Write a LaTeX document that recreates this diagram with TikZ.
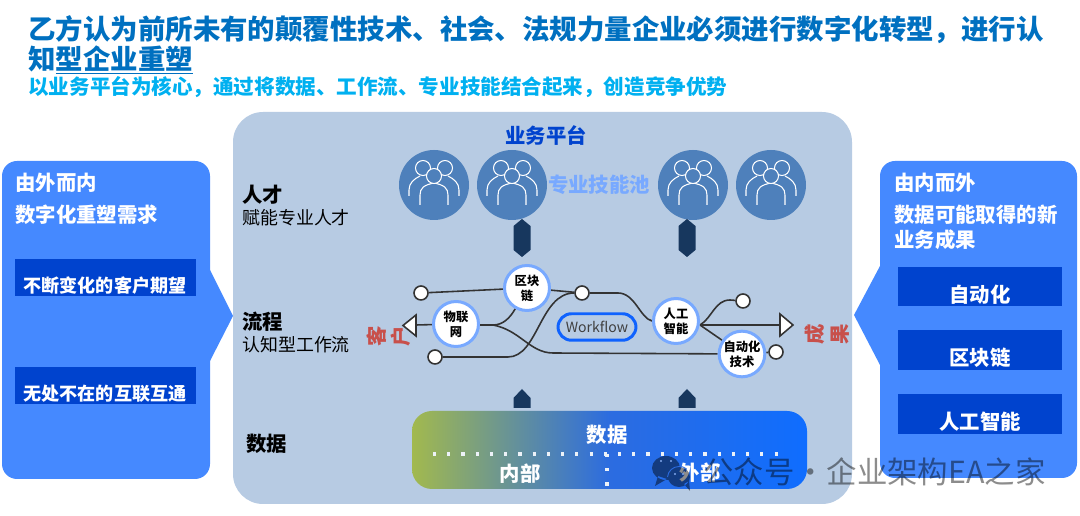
\documentclass[tikz,border=0pt]{standalone}
\usepackage{fontspec}
\setmainfont{Noto Sans CJK SC}
\usetikzlibrary{positioning}
\pgfdeclarelayer{back}
\pgfdeclarelayer{wires}
\pgfsetlayers{back,wires,main}
\definecolor{titleblue}{HTML}{0070C0}
\definecolor{subblue}{HTML}{00B0F0}
\definecolor{panelblue}{HTML}{B7CBE3}
\definecolor{sideblue}{HTML}{4589FF}
\definecolor{deepblue}{HTML}{0043CE}
\definecolor{ringblue}{HTML}{78A9FF}
\definecolor{poolblue}{HTML}{4E80BB}
\definecolor{navyblue}{HTML}{17375E}
\definecolor{flowred}{HTML}{C8504B}
\definecolor{linegray}{HTML}{333333}
\definecolor{flowblue}{HTML}{0F62FE}
\definecolor{dataleft}{HTML}{A2B94E}
\definecolor{datamid}{HTML}{2C6CE0}
\definecolor{dataright}{HTML}{0F6DFF}
\tikzset{
    bigtxt/.style={font=\fontsize{11.6pt}{14pt}\selectfont\bfseries},
    sidetxt/.style={bigtxt, white, anchor=west, inner sep=0pt},
    sidebar/.style={fill=deepblue, draw=none},
    itemtxt/.style={font=\fontsize{10.3pt}{12pt}\selectfont\bfseries, white, inner sep=0pt},
    rowhead/.style={bigtxt, black, anchor=west, inner sep=0pt},
    rowsub/.style={font=\fontsize{10.2pt}{12pt}\selectfont, black, anchor=west, inner sep=0pt},
    tech/.style={circle, draw=ringblue, line width=1.7pt, fill=white, minimum size=0.9cm, inner sep=0pt, align=center, font=\fontsize{7pt}{8.6pt}\selectfont\bfseries},
    port/.style={circle, draw=linegray, line width=0.9pt, fill=white, minimum size=0.28cm, inner sep=0pt},
    flow/.style={draw=linegray, line width=0.9pt},
    tip/.style={draw=linegray, line width=0.9pt, fill=white},
    redtxt/.style={bigtxt, flowred, rotate=90, inner sep=0pt},
    datatxt/.style={bigtxt, white, inner sep=0pt},
    dotline/.style={white!75!panelblue, line width=1.8pt, dash pattern=on 1.8pt off 6.3pt},
    link/.style={fill=navyblue},
    pool/.pic={
        \fill[poolblue] (0,0) circle (35);
        \begin{scope}[draw=white, line width=0.6pt]
            \draw (-11,-17) circle (7.5);
            \draw (11,-17) circle (7.5);
            \draw (-25,11) -- (-25,5) .. controls (-25,-2) and (-20,-6) .. (-14,-9);
            \draw (25,11) -- (25,5) .. controls (25,-2) and (20,-6) .. (14,-9);
            \draw[fill=poolblue] (-14,20) -- (-14,10) .. controls (-14,3) and (-10,0) .. (0,-2) .. controls (10,0) and (14,3) .. (14,10) -- (14,20);
            \draw[fill=poolblue] (0,-9) circle (7.5);
        \end{scope}
    }
}
\begin{document}
\begin{tikzpicture}[x=0.02cm, y=-0.02cm]
    \useasboundingbox (0,0) rectangle (1080,516);
    % heading
    \node[anchor=west, inner sep=0pt, titleblue, font=\fontsize{15.62pt}{18pt}\selectfont\bfseries] (title) at (28,30) {乙方认为前所未有的颠覆性技术、社会、法规力量企业必须进行数字化转型，进行认};
    \node[anchor=west, inner sep=0pt, titleblue, font=\fontsize{15.62pt}{18pt}\selectfont\bfseries] (titlerest) at (28,60) {知\underline{型企业重塑}};
    \node[anchor=west, inner sep=0pt, subblue, font=\fontsize{11.7pt}{14pt}\selectfont\bfseries] (subtitle) at (28,87) {以业务平台为核心，通过将数据、工作流、专业技能结合起来，创造竞争优势};
    % middle panel
    \begin{pgfonlayer}{back}
        \fill[panelblue, rounded corners=0.6cm] (233,112) rectangle (852,504);
    \end{pgfonlayer}
    % left side
    \fill[sideblue] (210,270) -- (233,316) -- (210,361) -- cycle;
    \fill[sideblue, rounded corners=0.3cm] (2,161) rectangle (210,479);
    \node[sidetxt] (outin) at (15,183) {由外而内};
    \node[sidetxt] (outneed) at (15,215) {数字化重塑需求};
    \fill[sidebar] (15,259) rectangle (196,296);
    \fill[sidebar] (15,367) rectangle (196,404);
    \node[itemtxt] (custom) at (105,286) {不断变化的客户期望};
    \node[itemtxt] (everywhere) at (105,394) {无处不在的互联互通};
    % right side
    \fill[sideblue] (880,266) -- (854,315) -- (880,365) -- cycle;
    \fill[sideblue, rounded corners=0.3cm] (880,161) rectangle (1077,478);
    \node[sidetxt] (inout) at (894,183) {由内而外};
    \node[sidetxt, align=left, font=\fontsize{11.6pt}{14.4pt}\selectfont\bfseries] (inresult) at (894,227) {数据可能取得的新\\业务成果};
    \fill[sidebar] (898,267) rectangle (1062,306);
    \fill[sidebar] (898,330) rectangle (1062,370);
    \fill[sidebar] (898,394) rectangle (1062,434);
    \node[datatxt] (resultA) at (980,295) {自动化};
    \node[datatxt] (resultB) at (980,358) {区块链};
    \node[datatxt] (resultC) at (980,422) {人工智能};
    % rows
    \node[rowhead] (talent) at (242,195) {人才};
    \node[rowsub] (talentsub) at (242,218) {赋能专业人才};
    \node[rowhead] (process) at (242,322) {流程};
    \node[rowsub] (processsub) at (242,345) {认知型工作流};
    \node[rowhead] (datahead) at (246,444) {数据};
    % platform
    \node[bigtxt, deepblue, inner sep=0pt] (platform) at (546,136) {业务平台};
    \foreach \px in {434,512,693,771}
        \pic at (\px,185) {pool};
    \node[bigtxt, ringblue, inner sep=0pt] (skillpool) at (599,185) {专业技能池};
    \foreach \px in {522,687} {
        \fill[link] (\px,219) -- (\px+8.5,226) -- (\px+8.5,250) -- (\px,257) -- (\px-8.5,250) -- (\px-8.5,226) -- cycle;
        \fill[link] (\px-8.5,408) -- (\px-8.5,398) -- (\px,389) -- (\px+8.5,398) -- (\px+8.5,408) -- cycle;
    }
    % workflow lines
    \node[port] (portA) at (421,293) {};
    \node[port] (portB) at (435,357) {};
    \node[port] (portC) at (582,293) {};
    \node[port] (portD) at (743,301) {};
    \node[port] (portE) at (776,352) {};
    \node[tech] (iot) at (456,324) {物联\\网};
    \node[tech] (chain) at (527,288) {区块\\链};
    \node[tech] (ai) at (676,321) {人工\\智能};
    \node[tech] (auto) at (742,354) {自动化\\技术};
    \coordinate (iotout) at (493,325);
    \coordinate (aiout) at (700,325);
    \coordinate (leftend) at (416,325);
    \coordinate (rightend) at (780,325);
    \begin{pgfonlayer}{wires}
        \draw[flow] (portA) -- (chain);
        \draw[flow] (chain) -- (portC);
        \draw[flow] (iot.east |- iotout) -- (iotout) .. controls (503,325) and (510,318) .. (chain);
        \draw[flow] (iotout) .. controls (520,330) and (530,353) .. (553,353) -- (auto);
        \draw[flow] (portB) -- (508,357) .. controls (538,357) and (540,293) .. (portC);
        \draw[flow] (portC) -- (618,293) .. controls (635,293) and (640,318) .. (ai.west);
        \draw[flow] (aiout) .. controls (712,318) and (715,300) .. (730,300) -- (portD);
        \draw[flow] (aiout) -- (auto);
        \draw[flow] (aiout) -- (rightend);
        \draw[flow] (iot) -- (leftend);
        \draw[flow] (auto) -- (portE);
    \end{pgfonlayer}
    \draw[tip] (leftend) -- (416,315) -- (403,325.5) -- (416,336) -- cycle;
    \draw[tip] (rightend) -- (780,314) -- (793,325) -- (780,336) -- cycle;
    \node[redtxt] (clientA) at (377,336) {客};
    \node[redtxt] (clientB) at (401,336) {户};
    \node[redtxt] (resultL) at (815,334) {成};
    \node[redtxt] (resultR) at (840,334) {果};
    \node[draw=flowblue, line width=1.7pt, rounded corners=0.27cm, minimum width=1.56cm, minimum height=0.53cm, inner sep=0pt, text=black!75, font=\fontsize{8pt}{10pt}\selectfont] (workflow) at (597,327) {Workflow};
    % data bar
    \shade[left color=dataleft, right color=dataright, middle color=datamid, rounded corners=0.4cm] (412,411) rectangle (807,489);
    \draw[dotline] (433,454) -- (781,454);
    \draw[dotline] (607,454) -- (607,489);
    \node[datatxt] (dataname) at (607,435) {数据};
    \node[datatxt] (datain) at (520,474) {内部};
    \node[datatxt] (dataout) at (700,473) {外部};
    % watermark
    \fill[black, opacity=0.45] (666,468) ellipse (14 and 12) (658,476) -- (655,486) -- (667,479) -- cycle
        (679,477) ellipse (11 and 10) (684,484) -- (690,491) -- (689,481) -- cycle;
    \draw[datamid, line width=0.5pt] (667.5,477) .. controls (668,471) and (673,466.5) .. (679,466.5) .. controls (682,466.5) and (684,467) .. (686,468.5);
    \foreach \ex/\ey in {661/461, 671/461, 675/474, 683/474}
        \fill[white!40!datamid] (\ex,\ey) circle (1.2);
    \node[anchor=west, inner sep=0pt, black, text opacity=0.45, font=\fontsize{17.3pt}{20pt}\selectfont] (mark) at (703,472) {公众号\hspace{0.5pt}·\hspace{0.5pt}企业架构EA之家};
\end{tikzpicture}
\end{document}
